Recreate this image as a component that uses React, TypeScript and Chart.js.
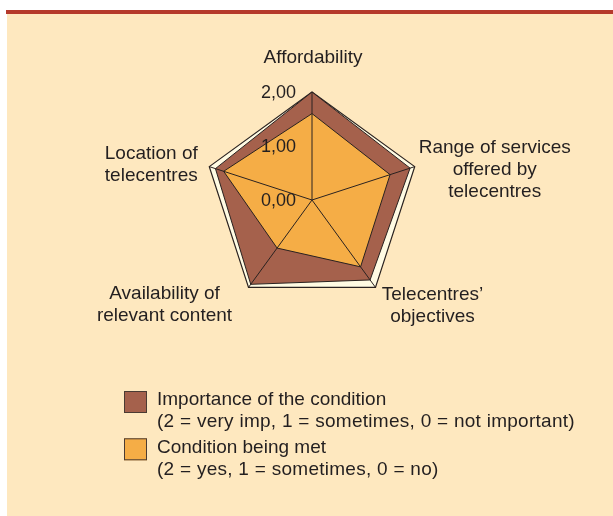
import React, { useEffect, useRef } from 'react';
import { Chart, registerables } from 'chart.js';

Chart.register(...registerables);

// ---- data ----
const AXIS_LABELS: string[][] = [
  ['Affordability'],
  ['Range of services', 'offered by', 'telecentres'],
  ['Telecentres\u2019', 'objectives'],
  ['Availability of', 'relevant content'],
  ['Location of', 'telecentres'],
];
const IMPORTANCE = [2.0, 1.91, 1.83, 1.93, 1.88];
const CONDITION_MET = [1.6, 1.52, 1.53, 1.1, 1.72];
const TICK_VALUES = [0, 1, 2];
const TICK_LABELS = ['0,00', '1,00', '2,00'];
const SERIES_NAMES = ['Importance of the condition', 'Condition being met'];
const SERIES_NOTES = [
  '(2 = very imp, 1 = sometimes, 0 = not important)',
  '(2 = yes, 1 = sometimes, 0 = no)',
];

// ---- styles ----
const FONT = '"Liberation Sans", Arial, Helvetica, sans-serif';
const TEXT = '#231f20';
const RED = '#b5392b';
const BEIGE = '#fee8bf';
const CREAM = '#fffbe3';
const BROWN = '#a5614c';
const ORANGE = '#f5ad46';
const LINE = '#2a2220';
const COLORS = [BROWN, ORANGE];

// label anchor offsets (x centre, first baseline) relative to outer vertex
const LABEL_OFFSETS = [
  [1, -29],
  [80, -14],
  [57, 13],
  [-84, 12],
  [-58, -8],
];
const LINE_H = 22;

const decor = {
  id: 'decor',
  beforeDraw(chart: any) {
    const { ctx, width, height } = chart;
    ctx.save();
    ctx.fillStyle = '#ffffff';
    ctx.fillRect(0, 0, width, height);
    ctx.fillStyle = RED;
    ctx.fillRect(6, 10, width - 6, 4);
    ctx.fillStyle = BEIGE;
    ctx.fillRect(7, 14, width - 7, height - 14);
    ctx.restore();
  },
  afterDatasetsDraw(chart: any) {
    const { ctx } = chart;
    const scale = chart.scales.r;
    const cx = scale.xCenter;
    const cy = scale.yCenter;
    const R = scale.getDistanceFromCenterForValue(TICK_VALUES[TICK_VALUES.length - 1]);
    ctx.save();
    // angle lines on top
    ctx.strokeStyle = LINE;
    ctx.lineWidth = 1;
    for (let i = 0; i < AXIS_LABELS.length; i++) {
      const p = scale.getPointPosition(i, R);
      ctx.beginPath();
      ctx.moveTo(cx, cy);
      ctx.lineTo(p.x, p.y);
      ctx.stroke();
    }
    // tick labels
    ctx.fillStyle = TEXT;
    ctx.font = `18px ${FONT}`;
    ctx.textAlign = 'right';
    ctx.textBaseline = 'middle';
    TICK_VALUES.forEach((v, i) => {
      const d = scale.getDistanceFromCenterForValue(v);
      ctx.fillText(TICK_LABELS[i], cx - 16, cy - d + 1);
    });
    // point labels
    ctx.font = `19px ${FONT}`;
    ctx.textAlign = 'center';
    ctx.textBaseline = 'alphabetic';
    AXIS_LABELS.forEach((lines, i) => {
      const p = scale.getPointPosition(i, R);
      const [ox, oy] = LABEL_OFFSETS[i];
      lines.forEach((t, j) => {
        ctx.fillText(t, p.x + ox, p.y + oy + j * LINE_H);
      });
    });
    // legend
    ctx.textAlign = 'left';
    chart.data.datasets.forEach((ds: any, i: number) => {
      const by = 391 + i * 47.3;
      ctx.fillStyle = COLORS[i];
      ctx.fillRect(124, by, 23, 22);
      ctx.strokeStyle = '#4a3b33';
      ctx.lineWidth = 1;
      ctx.strokeRect(124.5, by + 0.5, 22, 21);
      ctx.fillStyle = TEXT;
      const ty = 405 + i * 48.3;
      ctx.fillText(SERIES_NAMES[i], 157, ty);
      (ctx as any).letterSpacing = '0.27px';
      ctx.fillText(SERIES_NOTES[i], 157, ty + 21.7);
      (ctx as any).letterSpacing = '0px';
    });
    ctx.restore();
  },
};

export default function App() {
  const ref = useRef<HTMLCanvasElement | null>(null);
  useEffect(() => {
    if (!ref.current) return;
    const chart = new Chart(ref.current, {
      type: 'radar',
      data: {
        labels: AXIS_LABELS.map((l) => l.join(' ')),
        datasets: [
          {
            label: SERIES_NAMES[0],
            data: IMPORTANCE,
            backgroundColor: BROWN,
            borderColor: LINE,
            borderWidth: 1,
            pointRadius: 0,
            fill: true,
            order: 2,
          },
          {
            label: SERIES_NAMES[1],
            data: CONDITION_MET,
            backgroundColor: ORANGE,
            borderColor: LINE,
            borderWidth: 1,
            pointRadius: 0,
            fill: true,
            order: 1,
          },
        ],
      },
      options: {
        responsive: false,
        animation: false,
        devicePixelRatio: 1,
        layout: { padding: { left: 204, right: 193, top: 92, bottom: 208 } },
        plugins: { legend: { display: false }, tooltip: { enabled: false } },
        elements: { line: { tension: 0 } },
        scales: {
          r: {
            min: 0,
            max: 2,
            backgroundColor: CREAM,
            ticks: { display: false, stepSize: 1 },
            pointLabels: { display: false },
            angleLines: { display: false },
            grid: {
              color: (c: any) => (c.tick && c.tick.value === 2 ? LINE : 'rgba(0,0,0,0)'),
              lineWidth: 1.2,
            },
          },
        },
      },
      plugins: [decor],
    });
    return () => chart.destroy();
  }, []);
  return (
    <div style={{ position: 'fixed', left: 0, top: 0, width: 613, height: 516 }}>
      <canvas ref={ref} width={613} height={516} style={{ display: 'block', width: 613, height: 516 }} />
    </div>
  );
}
